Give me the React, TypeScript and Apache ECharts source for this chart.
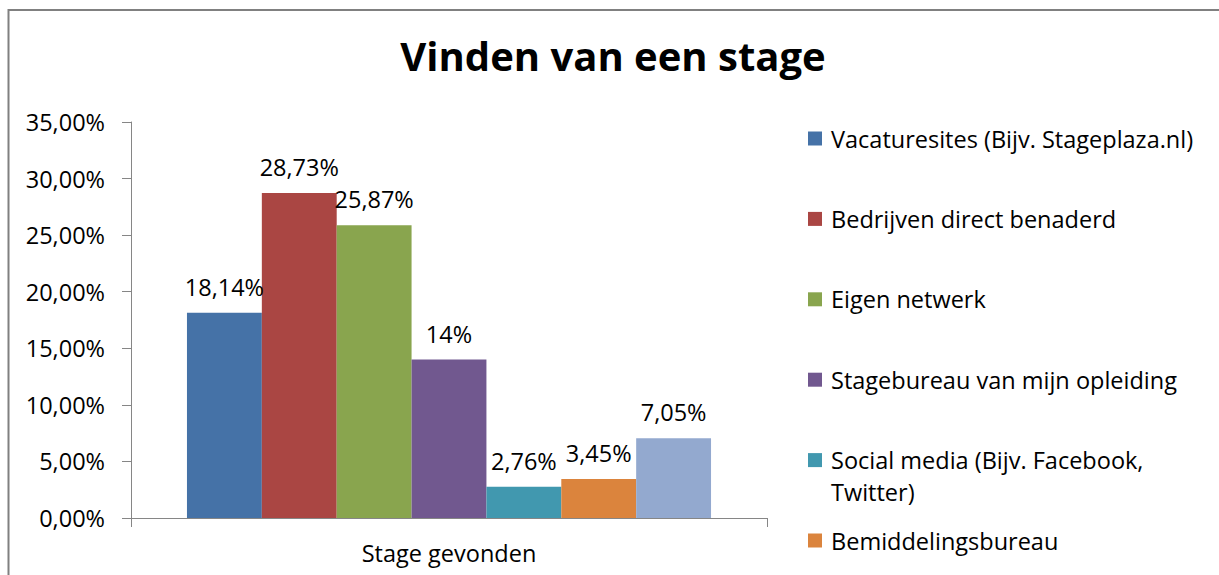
import React, { useEffect, useRef } from "react";
import * as echarts from "echarts";

const titleText = "Vinden van een stage";
const categories = ["Stage gevonden"];
const seriesNames = [
  "Vacaturesites (Bijv. Stageplaza.nl)",
  "Bedrijven direct benaderd",
  "Eigen netwerk",
  "Stagebureau van mijn opleiding",
  "Social media (Bijv. Facebook, Twitter)",
  "Bemiddelingsbureau",
  "Anders",
];
const seriesValues = [18.14, 28.73, 25.87, 14, 2.76, 3.45, 7.05];
const seriesColors = ["#4572A7", "#AA4643", "#89A54E", "#71588F", "#4198AF", "#DB843D", "#93A9CF"];
const legendNames = seriesNames.slice(0, 6);
const yMin = 0;
const yMax = 35;
const yInterval = 5;

const FONT = '"Open Sans", "Noto Sans", sans-serif';
const AXIS_GRAY = "#868686";
const FS = 23.5;

const fmtTick = (v: number) => v.toFixed(2).replace(".", ",") + "%";
const fmtLabel = (v: number) => String(v).replace(".", ",") + "%";

export default function App() {
  const ref = useRef<HTMLDivElement>(null);

  useEffect(() => {
    document.body.style.margin = "0";
    if (!ref.current) return;
    const chart = echarts.init(ref.current, undefined, { renderer: "svg" });

    const series = seriesNames.map((name, i) => ({
      name,
      type: "bar" as const,
      data: [seriesValues[i]],
      itemStyle: { color: seriesColors[i] },
      barGap: "0%",
      barCategoryGap: "17.6%",
      label: {
        show: true,
        position: "top" as const,
        distance: 14,
        formatter: (p: any) => fmtLabel(p.value),
        color: "#000",
        fontFamily: FONT,
        fontSize: FS,
        lineHeight: 24,
      },
    }));

    chart.setOption({
      animation: false,
      backgroundColor: "#fff",
      title: {
        text: titleText,
        left: 613,
        textAlign: "center",
        top: 35,
        padding: 0,
        textStyle: {
          fontFamily: FONT,
          fontWeight: "bold",
          fontSize: 40,
          lineHeight: 40,
          color: "#000",
        },
      },
      grid: { left: 131, right: 452, top: 122, bottom: 57, containLabel: false },
      legend: {
        data: legendNames,
        orient: "vertical",
        left: 808,
        top: 126.5,
        padding: 0,
        itemGap: 56.4,
        itemWidth: 14,
        itemHeight: 14,
        icon: "rect",
        selectedMode: false,
        formatter: (name: string) =>
          name.startsWith("Social media") ? "Social media (Bijv. Facebook," : name,
        textStyle: {
          fontFamily: FONT,
          fontSize: FS,
          lineHeight: 24,
          color: "#000",
          padding: [0, 0, 0, 4],
        },
      },
      xAxis: {
        type: "category",
        data: categories,
        axisLine: { show: true, lineStyle: { color: AXIS_GRAY, width: 1 } },
        axisTick: { show: true, length: 9, lineStyle: { color: AXIS_GRAY } },
        axisLabel: {
          margin: 23,
          fontFamily: FONT,
          fontSize: FS,
          lineHeight: 24,
          color: "#000",
        },
      },
      yAxis: {
        type: "value",
        min: yMin,
        max: yMax,
        interval: yInterval,
        splitLine: { show: false },
        axisLine: { show: true, lineStyle: { color: AXIS_GRAY, width: 1 } },
        axisTick: { show: true, length: 9, lineStyle: { color: AXIS_GRAY } },
        axisLabel: {
          margin: 26,
          formatter: (v: number) => fmtTick(v),
          fontFamily: FONT,
          fontSize: FS,
          color: "#000",
        },
      },
      graphic: [
        {
          type: "rect",
          silent: true,
          shape: { x: 8.5, y: 10, width: 1400, height: 800 },
          style: { fill: "none", stroke: "#808080", lineWidth: 2 },
        },
        {
          type: "text",
          x: 831,
          y: 492,
          style: {
            text: "Twitter)",
            fontFamily: FONT,
            fontSize: FS,
            fill: "#000",
            verticalAlign: "middle",
          },
        },
      ],
      series,
    });

    return () => chart.dispose();
  }, []);

  return <div ref={ref} style={{ width: 1219, height: 575 }} />;
}
